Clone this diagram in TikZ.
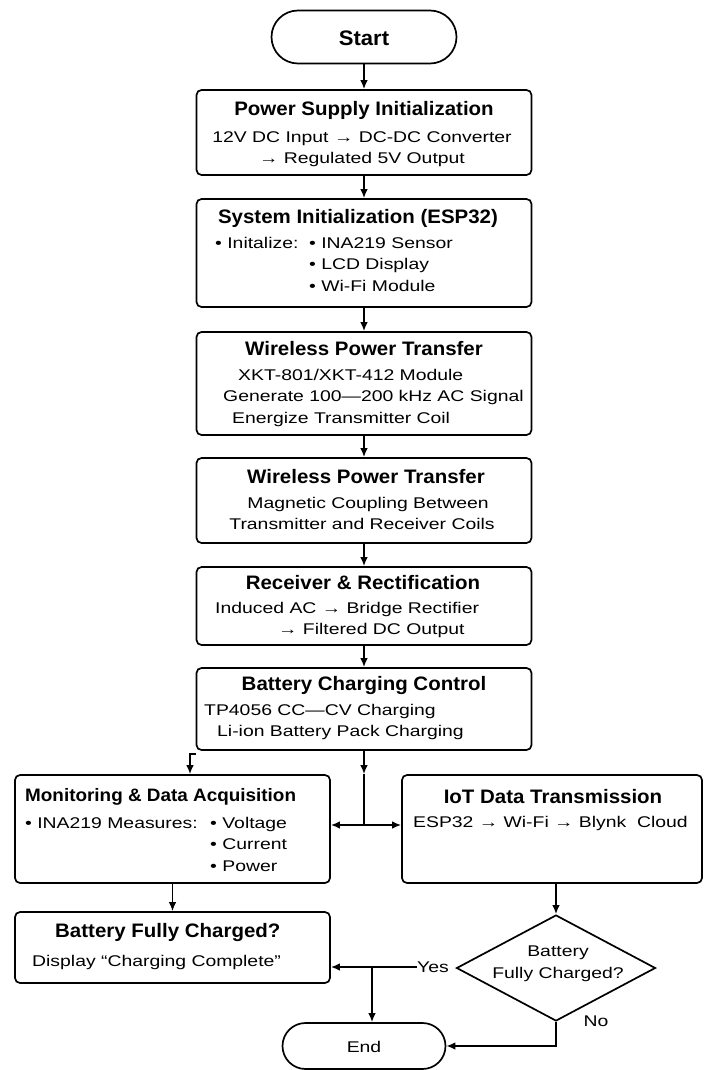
\documentclass[tikz,border=0pt]{standalone}
\usepackage{fontspec}
\setmainfont{Liberation Sans}
\newfontfamily\ttlfont[FakeStretch=1.05]{Liberation Sans}
\newfontfamily\bodyfont[FakeStretch=1.25]{Liberation Sans}
\usetikzlibrary{
  shapes.geometric, shapes.misc, arrows.meta, positioning, calc
}
\tikzstyle{blk}   = [draw, line width=1.7pt, rounded corners=5pt, inner sep=0pt]
\tikzstyle{term}  = [draw, line width=1.7pt, rounded rectangle, inner sep=0pt]
\tikzstyle{ttl}   = [inner sep=0pt, font=\ttlfont\bfseries\fontsize{19.5}{22}\selectfont]
\tikzstyle{txt}   = [inner sep=0pt, align=left, font=\bodyfont\fontsize{15.5}{21.5}\selectfont]
\tikzstyle{arrow} = [line width=1.6pt, -{Latex[length=9pt,width=7.5pt]}]

\begin{document}
\begin{tikzpicture}[x=1pt, y=-1pt]
  \useasboundingbox (0,0) rectangle (704,1070);

  \node[term, minimum width=185pt, minimum height=53pt] (st) at (364,37) {};
  \node[ttl, font=\ttlfont\bfseries\fontsize{21}{22}\selectfont] (stt) at (364,38) {Start};

  \node[blk, minimum width=335pt, minimum height=85pt] (b1) at (364,132.5) {};
  \node[ttl] (t1) at (364,110) {Power Supply Initialization};
  \node[txt, align=center, anchor=north] (x1) at (362,131)
    {12V DC Input → DC-DC Converter\\→ Regulated 5V Output};

  \node[blk, minimum width=335pt, minimum height=108pt] (b2) at (364,253) {};
  \node[ttl] (t2) at (358,218) {System Initialization (ESP32)};
  \node[txt, anchor=north west] (x2a) at (215,237) {• Initalize:};
  \node[txt, anchor=north west] (x2b) at (309,237)
    {• INA219 Sensor\\• LCD Display\\• Wi-Fi Module};

  \node[blk, minimum width=335pt, minimum height=103pt] (b3) at (364,383.5) {};
  \node[ttl] (t3) at (364,349) {Wireless Power Transfer};
  \node[txt, anchor=north west] (x3) at (223,369)
    {\hspace*{15pt}XKT-801/XKT-412 Module\\Generate 100—200 kHz AC Signal\\\hspace*{9pt}Energize Transmitter Coil};

  \node[blk, minimum width=335pt, minimum height=85pt] (b4) at (364,500.5) {};
  \node[ttl] (t4) at (366,477) {Wireless Power Transfer};
  \node[txt, align=center, anchor=north] (x4) at (362,497)
    {\hspace*{12pt}Magnetic Coupling Between\\Transmitter and Receiver Coils};

  \node[blk, minimum width=335pt, minimum height=78pt] (b5) at (364,606) {};
  \node[ttl] (t5) at (363,583) {Receiver \& Rectification};
  \node[txt, anchor=north west] (x5) at (215,602)
    {Induced AC → Bridge Rectifier\\\hspace*{63pt}→ Filtered DC Output};

  \node[blk, minimum width=335pt, minimum height=82pt] (b6) at (364,709) {};
  \node[ttl] (t6) at (364,685) {Battery Charging Control};
  \node[txt, anchor=north west] (x6) at (204,704)
    {TP4056 CC—CV Charging\\\hspace*{13pt}Li-ion Battery Pack Charging};

  \node[blk, minimum width=315pt, minimum height=108pt] (mon) at (172.5,829) {};
  \node[ttl, anchor=west, font=\ttlfont\bfseries\fontsize{18}{22}\selectfont] (tm) at (25,797)
    {Monitoring \& Data Acquisition};
  \node[txt, anchor=north west] (xma) at (25,817) {• INA219 Measures:};
  \node[txt, anchor=north west] (xmb) at (210,817) {• Voltage\\• Current\\• Power};

  \node[blk, minimum width=300pt, minimum height=108pt] (iot) at (552,829) {};
  \node[ttl] (ti) at (553,797) {IoT Data Transmission};
  \node[txt, anchor=west] (xi) at (413,823) {ESP32 → Wi-Fi → Blynk\ \ Cloud};

  \node[blk, minimum width=315pt, minimum height=71pt] (full) at (172.5,947.5) {};
  \node[ttl, anchor=west] (tf) at (55,932) {Battery Fully Charged?};
  \node[txt, anchor=west] (xf) at (32,962) {Display “Charging Complete”};

  \node[draw, diamond, line width=1.7pt, inner sep=0pt,
        minimum width=199pt, minimum height=106pt] (dec) at (556,968) {};
  \node[txt, align=center] (xd) at (558,964) {Battery\\Fully Charged?};

  \node[term, minimum width=163pt, minimum height=46pt] (en) at (364,1046) {};
  \node[txt] (ent) at (364,1047) {End};

  \node[txt] (yes) at (433,967) {Yes};
  \node[txt] (no) at (596,1021) {No};

  \coordinate (tapL) at (190,760);
  \coordinate (tapM) at (364,825);
  \coordinate (tapY) at (372,967);

  \draw[arrow] (st) -- (b1);
  \draw[arrow] (b1) -- (b2);
  \draw[arrow] (b2) -- (b3);
  \draw[arrow] (b3) -- (b4);
  \draw[arrow] (b4) -- (b5);
  \draw[arrow] (b5) -- (b6);
  \draw[arrow] ([yshift=-3pt]b6.south west) -| (tapL |- mon.north);
  \draw[arrow] (b6.south) -- (b6.south |- mon.north);
  \draw[line width=1.6pt] (b6.south |- mon.north) -- (tapM);
  \draw[arrow] (tapM) -- (tapM -| mon.east);
  \draw[arrow] (tapM) -- (tapM -| iot.west);
  \draw[arrow] (mon) -- (full);
  \draw[arrow] (iot.south -| dec.north) -- (dec.north);
  \draw[arrow] (yes.west) -- (yes.west -| full.east);
  \draw[arrow] (tapY) -- (tapY |- en.north);
  \draw[arrow] (dec.south) |- (en.east);
\end{tikzpicture}
\end{document}
